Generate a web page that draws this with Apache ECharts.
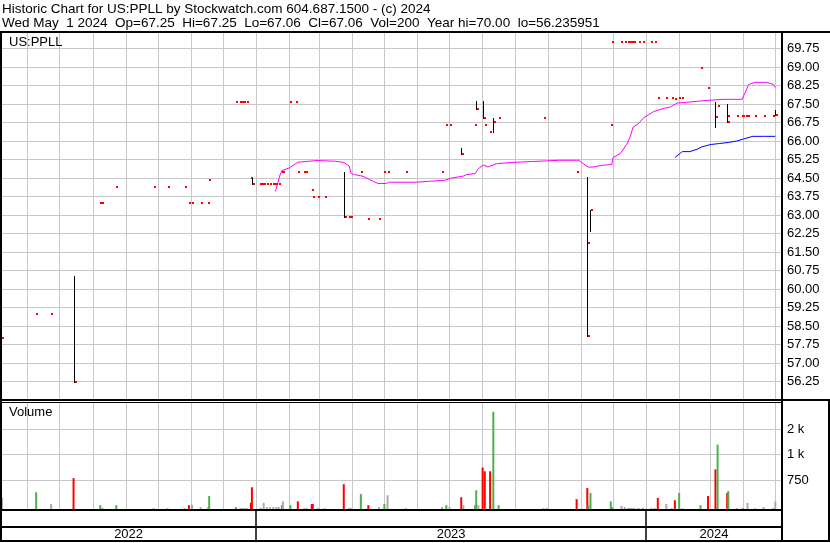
<!DOCTYPE html>
<html><head><meta charset="utf-8">
<script src="https://cdn.jsdelivr.net/npm/echarts@6/dist/echarts.min.js"></script>
<style>html,body{margin:0;padding:0;background:#fff}#c{width:830px;height:543px}</style>
</head><body><div id="c"></div>
<script>
// ---------- DATA ----------
// single-print days (close only, no range)
const dotDates = ['2022-05-08','2022-06-09','2022-06-23','2022-08-08','2022-08-10','2022-08-23','2022-09-27','2022-10-10','2022-10-26','2022-10-30','2022-11-02','2022-11-10','2022-11-17','2022-11-18','2022-12-13','2022-12-17','2022-12-19','2022-12-21','2022-12-23','2022-12-27',
'2023-01-05','2023-01-06','2023-01-08','2023-01-11','2023-01-14','2023-01-17','2023-01-19','2023-01-20','2023-01-22','2023-01-25','2023-01-26','2023-02-02','2023-02-07','2023-02-09','2023-02-15','2023-02-17','2023-02-22','2023-02-23','2023-02-28','2023-03-06','2023-03-29','2023-03-31','2023-04-09','2023-04-16','2023-04-26','2023-05-01','2023-05-04','2023-05-21','2023-06-24','2023-06-28','2023-07-01','2023-07-25','2023-08-03','2023-08-08','2023-08-16','2023-09-27','2023-10-28','2023-11-08','2023-11-29','2023-11-30','2023-12-09','2023-12-12','2023-12-15','2023-12-17','2023-12-19','2023-12-21','2023-12-25','2023-12-29',
'2024-01-06','2024-01-09','2024-01-12','2024-01-20','2024-01-25','2024-01-28','2024-02-01','2024-02-04','2024-02-21','2024-02-28','2024-03-08','2024-03-18','2024-03-26','2024-03-31','2024-04-01','2024-04-04','2024-04-05','2024-04-12','2024-04-20','2024-04-29'];
const dotClose = [58.0,59.0,59.0,63.5,63.5,64.15,64.15,64.15,64.15,63.5,63.5,63.5,63.5,64.4,67.6,67.6,67.6,67.6,67.6,64.52,
64.25,64.25,64.25,64.25,64.25,64.25,64.25,64.25,64.25,64.75,64.75,67.6,67.6,64.75,64.75,64.75,64.0,63.75,63.75,63.75,62.92,62.92,64.75,62.84,62.84,64.75,64.75,64.75,64.75,66.65,66.65,66.65,66.65,66.36,66.92,66.92,64.75,61.87,66.65,70.0,70.0,70.0,70.0,70.0,70.0,70.0,70.0,70.0,
70.0,70.0,67.75,67.75,67.75,67.7,67.75,67.75,68.95,68.15,67.41,67.0,67.0,67.0,67.0,67.0,67.0,67.0,67.0,67.0];

// days with a high-low range
const barDates = ['2022-07-14','2022-12-28','2023-03-24','2023-07-12','2023-07-26','2023-08-01','2023-08-11','2023-11-07','2023-11-10','2024-03-06','2024-03-17','2024-05-01'];
const barHigh  = [60.52,64.52,64.75,65.70,67.61,67.61,66.92,64.53,63.21,67.57,67.49,67.25];
const barLow   = [56.236,64.26,62.92,65.48,67.29,66.92,66.36,58.10,62.35,66.56,66.76,67.06];
const barClose = [56.236,64.26,62.92,65.48,67.29,66.92,66.76,58.10,63.21,66.96,66.76,67.06];

// moving averages
const maDates = ['2023-01-19','2023-01-23','2023-01-25','2023-02-01','2023-02-09','2023-02-17','2023-02-27','2023-03-16','2023-03-24','2023-03-29','2023-03-31','2023-04-03','2023-04-11','2023-04-16','2023-04-21','2023-04-25','2023-05-03','2023-05-06','2023-05-31','2023-06-13','2023-06-27','2023-07-02','2023-07-14','2023-07-17','2023-07-25','2023-07-28','2023-08-02','2023-08-06','2023-08-14','2023-08-28','2023-09-17','2023-10-12','2023-10-30','2023-11-03','2023-11-08','2023-11-13','2023-11-20','2023-11-30','2023-12-01','2023-12-08','2023-12-14','2023-12-17','2023-12-20','2023-12-25','2023-12-30','2024-01-08','2024-01-17','2024-01-24','2024-01-30','2024-02-08','2024-02-25','2024-03-13','2024-03-31','2024-04-03','2024-04-06','2024-04-12','2024-04-23','2024-04-29','2024-05-01'];
const maValues = [63.95,64.58,64.80,64.91,65.14,65.17,65.21,65.18,65.13,64.99,64.68,64.64,64.57,64.46,64.36,64.28,64.28,64.33,64.33,64.37,64.41,64.49,64.58,64.64,64.68,64.88,65.03,64.95,65.08,65.13,65.17,65.22,65.22,65.09,64.94,64.95,65.01,65.05,65.32,65.50,65.87,66.16,66.57,66.71,66.95,67.19,67.32,67.38,67.54,67.57,67.64,67.69,67.69,67.99,68.29,68.38,68.38,68.30,68.17];
const ma2Dates = ['2024-01-28','2024-02-04','2024-02-11','2024-02-18','2024-02-22','2024-02-27','2024-03-02','2024-03-10','2024-03-18','2024-03-26','2024-04-01','2024-04-10','2024-04-20','2024-05-01'];
const ma2Values = [65.33,65.57,65.57,65.67,65.76,65.82,65.86,65.90,65.94,66.00,66.08,66.19,66.19,66.19];

// volume (u = up, d = down, n = unchanged)
const volDates = ['2022-05-08','2022-06-09','2022-06-23','2022-07-14','2022-08-08','2022-08-10','2022-08-23','2022-09-27','2022-10-10','2022-10-26','2022-10-30','2022-11-02','2022-11-10','2022-11-17','2022-11-18','2022-12-13','2022-12-17','2022-12-19','2022-12-21','2022-12-23','2022-12-27','2022-12-28',
'2023-01-05','2023-01-08','2023-01-11','2023-01-14','2023-01-17','2023-01-20','2023-01-22','2023-01-25','2023-01-26','2023-02-02','2023-02-09','2023-02-15','2023-02-17','2023-02-22','2023-02-23','2023-02-28','2023-03-06','2023-03-24','2023-03-29','2023-03-31','2023-04-09','2023-04-16','2023-04-26','2023-05-01','2023-05-04','2023-05-21','2023-06-24','2023-06-28','2023-07-01','2023-07-12','2023-07-14','2023-07-25','2023-07-26','2023-07-28','2023-08-01','2023-08-03','2023-08-04','2023-08-08','2023-08-11','2023-08-16','2023-09-27','2023-09-30','2023-10-28','2023-11-07','2023-11-08','2023-11-10','2023-11-29','2023-11-30','2023-12-09','2023-12-12','2023-12-15','2023-12-17','2023-12-19','2023-12-21','2023-12-25','2023-12-29',
'2024-01-06','2024-01-09','2024-01-12','2024-01-20','2024-01-25','2024-01-28','2024-02-01','2024-02-04','2024-02-21','2024-02-28','2024-03-06','2024-03-08','2024-03-17','2024-03-18','2024-03-26','2024-03-31','2024-04-01','2024-04-05','2024-04-12','2024-04-20','2024-04-29','2024-05-01'];
const volValues = [300,440,130,810,100,35,100,25,25,25,100,110,50,50,340,50,25,25,25,25,160,570,
35,160,50,50,50,50,50,100,200,100,200,25,25,130,130,25,25,650,25,25,390,100,50,130,360,25,50,100,50,310,100,100,490,100,1090,990,25,990,2550,100,25,25,260,550,100,420,200,50,80,50,25,25,25,25,25,25,
25,25,290,130,25,230,420,25,100,340,1040,1690,420,470,25,25,25,160,25,50,25,200];
const volDir = ['n','u','n','d','u','n','u','n','n','n','d','n','n','n','u','u','n','n','n','n','d','d',
'n','n','n','n','n','n','n','u','n','u','d','n','n','d','d','n','n','d','n','n','u','d','n','u','n','n','n','u','n','d','n','u','u','n','d','d','n','d','u','u','n','n','d','d','u','u','u','u','n','n','n','n','n','n','n','n',
'n','n','d','n','n','d','u','n','u','d','d','u','d','u','n','n','n','n','n','n','n','n'];

// axis labels
const volTickValues = [750, 1430, 2100];
const volTickLabels = ['750', '1 k', '2 k'];
const yearBounds = ['2023-01-01', '2024-01-01'];
const yearLabels = ['2022', '2023', '2024'];
const titleLine1 = 'Historic Chart for US:PPLL by Stockwatch.com 604.687.1500 - (c) 2024';
const titleLine2 = 'Wed May  1 2024  Op=67.25  Hi=67.25  Lo=67.06  Cl=67.06  Vol=200  Year hi=70.00  lo=56.235951';

// ---------- BUILD ----------
const FONT = 'Arial, "Liberation Sans", sans-serif';
const xMin = new Date(2022, 4, 7, 2).getTime();
const xMax = new Date(2024, 4, 7, 7).getTime();
const ts = s => { const p = s.split('-'); return new Date(+p[0], +p[1] - 1, +p[2]).getTime(); };

const monthTicks = [];
for (let y = 2022, m = 5; y < 2024 || (y === 2024 && m <= 4);) {
  monthTicks.push(new Date(y, m, 1).getTime());
  m++; if (m > 11) { m = 0; y++; }
}
const yb = yearBounds.map(ts);
const segEdges = [xMin].concat(yb, [xMax]);
const yearMid = yearLabels.map((_, i) => Math.round((segEdges[i] + segEdges[i + 1]) / 2));

const priceData = [];
dotDates.forEach((d, i) => priceData.push([ts(d), dotClose[i], dotClose[i], dotClose[i], 0]));
barDates.forEach((d, i) => priceData.push([ts(d), barClose[i], barHigh[i], barLow[i], 1]));

function renderPrice(params, api) {
  const t = api.value(0);
  const pc = api.coord([t, api.value(1)]);
  const isBar = api.value(4) === 1;
  const X = Math.round(pc[0]);
  const kids = [];
  if (isBar) {
    const ph = api.coord([t, api.value(2)]);
    const pl = api.coord([t, api.value(3)]);
    kids.push({type: 'line', shape: {x1: X + 0.5, y1: Math.round(ph[1]), x2: X + 0.5, y2: Math.round(pl[1]) + 1},
      style: {stroke: '#000', lineWidth: 1}});
  }
  kids.push({type: 'rect', shape: {x: isBar ? X + 1 : X, y: Math.round(pc[1] - 1), width: 2, height: 2},
    style: {fill: '#ff0000'}});
  return {type: 'group', children: kids};
}

const dirColor = {u: '#4cb04c', d: '#ff0000', n: '#aaaaaa'};
const volData = volDates.map((d, i) => ({value: [ts(d), volValues[i]], itemStyle: {color: dirColor[volDir[i]]}}));

const GRID_COLOR = '#c8c8c8';
const mkGridLine = () => ({show: true, lineStyle: {color: GRID_COLOR, width: 1, type: 'solid', opacity: 1}});
const mkX = (gi, ticks, split) => ({type: 'value', gridIndex: gi, min: xMin, max: xMax, z: 1,
  axisLine: {show: false}, axisLabel: {show: false},
  axisTick: {show: false, customValues: ticks}, splitLine: split});

// frame lines (decoration)
const hLine = (y, x1, x2, w) => ({type: 'line', z: 100, silent: true, shape: {x1: x1, y1: y, x2: x2, y2: y}, style: {stroke: '#000', lineWidth: w}});
const vLine = (x, y1, y2, w) => ({type: 'line', z: 100, silent: true, shape: {x1: x, y1: y1, x2: x, y2: y2}, style: {stroke: '#000', lineWidth: w}});

const option = {
  animation: false,
  backgroundColor: '#fff',
  grid: [
    {left: 1, right: 48, top: 32, height: 368, show: false},
    {left: 1, right: 48, top: 403, height: 106, show: false},
    {left: 1, right: 48, top: 510, height: 17, show: false},
    {left: 1, right: 48, top: 527, height: 14, show: false}
  ],
  xAxis: [
    mkX(0, monthTicks, mkGridLine()),
    mkX(1, monthTicks, mkGridLine()),
    mkX(2, yb, {show: true, lineStyle: {color: '#000', width: 1.5}}),
    Object.assign(mkX(3, yb, {show: true, lineStyle: {color: '#000', width: 1.5}}), {
      axisLabel: {show: true, inside: true, customValues: yearMid, margin: 7, verticalAlign: 'middle',
        fontSize: 13, fontFamily: FONT, color: '#000',
        formatter: (v, i) => { const k = yearMid.indexOf(v); return yearLabels[k >= 0 ? k : i]; }}})
  ],
  yAxis: [
    {type: 'value', gridIndex: 0, position: 'right', min: 55.5, max: 70.42, interval: 0.75, z: 1,
      axisLine: {show: false}, axisTick: {show: false},
      axisLabel: {fontSize: 13, fontFamily: FONT, color: '#000', margin: 5, showMinLabel: false, showMaxLabel: false,
        formatter: v => v.toFixed(2)},
      splitLine: mkGridLine()},
    {type: 'value', gridIndex: 1, position: 'right', min: 0, max: 2780, z: 1,
      axisLine: {show: false},
      axisTick: {show: false, customValues: volTickValues},
      axisLabel: {fontSize: 13, fontFamily: FONT, color: '#000', margin: 5, customValues: volTickValues,
        formatter: v => volTickLabels[volTickValues.indexOf(v)]},
      splitLine: mkGridLine()},
    {type: 'value', gridIndex: 2, show: false},
    {type: 'value', gridIndex: 3, show: false}
  ],
  graphic: [
    {type: 'text', left: 2, top: 2, style: {text: titleLine1, font: '13.5px ' + FONT, fill: '#000'}},
    {type: 'text', left: 2, top: 16, style: {text: titleLine2, font: '13.5px ' + FONT, fill: '#000'}},
    {type: 'text', left: 9, top: 36, z: 100, style: {text: 'US:PPLL', font: '13px ' + FONT, fill: '#000'}},
    {type: 'text', left: 9, top: 406, z: 100, style: {text: 'Volume', font: '13px ' + FONT, fill: '#000'}},
    hLine(32, 0, 830, 2),
    hLine(400, 0, 830, 2),
    hLine(402.5, 0, 782, 1),
    hLine(510, 0, 782, 2),
    hLine(527, 0, 782, 2),
    hLine(541, 0, 830, 2),
    vLine(1, 32, 542, 2),
    vLine(782, 32, 542, 2),
    vLine(829, 400, 542, 2)
  ],
  series: [
    {type: 'line', xAxisIndex: 0, yAxisIndex: 0, data: maDates.map((d, i) => [ts(d), maValues[i]]),
      showSymbol: false, symbol: 'none', lineStyle: {color: '#ff00ff', width: 1}, z: 2},
    {type: 'line', xAxisIndex: 0, yAxisIndex: 0, data: ma2Dates.map((d, i) => [ts(d), ma2Values[i]]),
      showSymbol: false, symbol: 'none', lineStyle: {color: '#0000ff', width: 1}, z: 2},
    {type: 'custom', xAxisIndex: 0, yAxisIndex: 0, data: priceData, renderItem: renderPrice,
      encode: {x: 0, y: 1}, z: 3},
    {type: 'bar', xAxisIndex: 1, yAxisIndex: 1, data: volData, barWidth: 2, z: 3}
  ]
};

const chart = echarts.init(document.getElementById('c'), null, {renderer: 'canvas'});
chart.setOption(option);
</script>
</body></html>
